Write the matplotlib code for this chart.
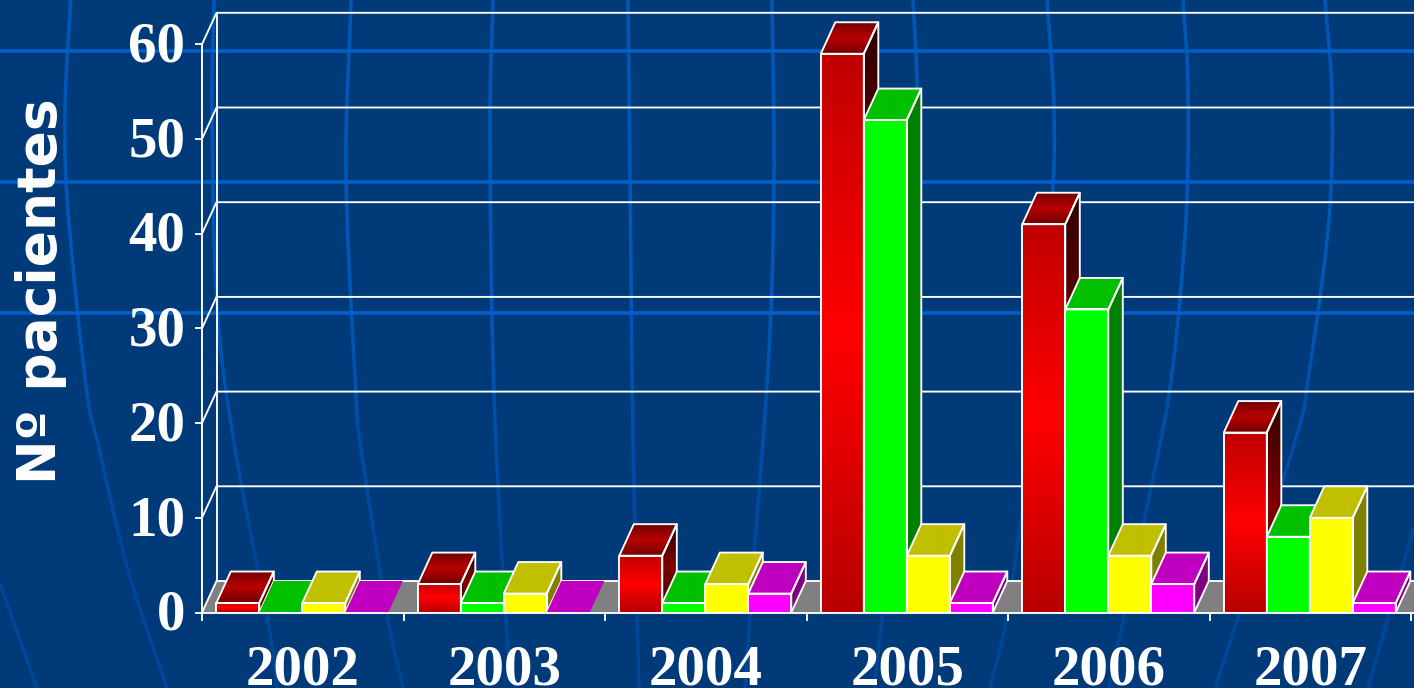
import numpy as np
import matplotlib
matplotlib.use("Agg")
import matplotlib.pyplot as plt
from matplotlib.collections import LineCollection
from matplotlib.colors import LinearSegmentedColormap, to_rgb
from matplotlib.patches import Polygon
from matplotlib.path import Path
from matplotlib.transforms import ScaledTranslation

# ---- data ----
years = ["2002", "2003", "2004", "2005", "2006", "2007"]
series_a = [1, 3, 6, 59, 41, 19]
series_b = [0, 1, 1, 52, 32, 8]
series_c = [1, 2, 3, 6, 6, 10]
series_d = [0, 0, 2, 1, 3, 1]
y_ticks = [0, 10, 20, 30, 40, 50, 60]
y_title = "Nº pacientes"

# ---- style ----
W, H = 1414, 688
BG = "#003A78"
LINE_TOP = "#0058BC"
LINE_BOTTOM = "#00479A"
HLINE = "#005FC8"
DEPTH_X_PX, DEPTH_Y_PX = 14.5, 31.5
CAT_PX, UNIT_PX = 201.5, 9.47
X0_PX, Y0_PX = 202.0, 612.5
BAR_PX, BAR_OFFSET_PX = 43.0, 14.3

styles = [
    dict(front=["#B80000", "#FF0000", "#C00000"], top=["#700000", "#B80000", "#700000"],
         side=["#300000", "#800000", "#300000"]),
    dict(front=["#00FF00"] * 3, top=["#00C000"] * 3, side=["#008000"] * 3),
    dict(front=["#FFFF00"] * 3, top=["#C0C000"] * 3, side=["#808000"] * 3),
    dict(front=["#FF00FF"] * 3, top=["#C000C0"] * 3, side=["#800080"] * 3),
]

# background decoration, in pixels
curves = [
    [(0, 584), (37, 688)],
    [(70.6, 0), (65, 110), (68, 211), (86, 386), (99, 448), (128, 570), (167, 688)],
    [(214, 0), (212, 110), (217, 307), (235, 448), (269, 627), (277, 688)],
    [(351, 0), (346, 175), (356, 395), (361, 448), (387, 614), (403, 688)],
    [(493, 0), (490, 132), (494, 395), (507, 636), (515, 688)],
    [(628, 0), (630, 175), (633, 439), (639, 688)],
    [(772, 0), (774, 175), (769, 351), (753, 570), (745, 688)],
    [(913, 0), (917, 88), (915, 219), (902, 439), (874, 688)],
    [(1047, 0), (1054, 110), (1051, 219), (1031, 439), (1007, 614), (990, 688)],
    [(1183, 0), (1188, 88), (1186, 219), (1172, 373), (1152, 483), (1109, 688)],
    [(1325, 0), (1332, 97), (1329, 219), (1309, 373), (1293, 448), (1215, 688)],
    [(1414, 527), (1368, 688)],
]
hlines_px = [51, 182, 313]

plt.rcParams["font.family"] = ["Liberation Serif", "DejaVu Serif"]
fig = plt.figure(figsize=(W / 100, H / 100), dpi=100, facecolor=BG)

# ---- background layer ----
bg = fig.add_axes([0, 0, 1, 1], zorder=0)
bg.set_xlim(0, W)
bg.set_ylim(H, 0)
bg.axis("off")


def smooth(points, n=24):
    p = np.array(points, float)
    if len(p) < 3:
        return p
    q = np.vstack([2 * p[0] - p[1], p, 2 * p[-1] - p[-2]])
    out = []
    for i in range(1, len(q) - 2):
        t = np.linspace(0, 1, n, endpoint=False)[:, None]
        out.append(0.5 * (2 * q[i] + (q[i + 1] - q[i - 1]) * t
                          + (2 * q[i - 1] - 5 * q[i] + 4 * q[i + 1] - q[i + 2]) * t ** 2
                          + (3 * q[i] - q[i - 1] - 3 * q[i + 1] + q[i + 2]) * t ** 3))
    return np.vstack(out + [p[-1:]])


c_top, c_bot = np.array(to_rgb(LINE_TOP)), np.array(to_rgb(LINE_BOTTOM))
for c in curves:
    pts = smooth(c)
    segs = np.stack([pts[:-1], pts[1:]], axis=1)
    ym = segs[:, :, 1].mean(axis=1)
    f = np.clip((ym - 300) / 250, 0, 1)[:, None]
    bg.add_collection(LineCollection(segs, colors=c_top * (1 - f) + c_bot * f,
                                     linewidths=2.5, capstyle="butt"))
for y in hlines_px:
    bg.axhline(y, color=HLINE, lw=2.6)

# ---- chart ----
ax = fig.add_axes([X0_PX / W, (H - Y0_PX) / H, (W - X0_PX) / W, Y0_PX / H], zorder=1)
ax.patch.set_alpha(0)
ax.set_xlim(0, (W - X0_PX) / CAT_PX)
ax.set_ylim(0, Y0_PX / UNIT_PX)

dx = DEPTH_X_PX / CAT_PX
dy = DEPTH_Y_PX / UNIT_PX
bw = BAR_PX / CAT_PX
off = BAR_OFFSET_PX / CAT_PX
xmax = ax.get_xlim()[1]
ymax = max(y_ticks)
WHITE_LW = 1.35

# walls and floor
for v in y_ticks[1:]:
    ax.plot([0, dx, xmax], [v, v + dy, v + dy], color="white", lw=WHITE_LW, zorder=1, clip_on=False)
ax.plot([dx, dx], [dy, ymax + dy], color="white", lw=WHITE_LW, zorder=1)
ax.add_patch(Polygon([(0, 0), (dx, dy), (xmax, dy), (xmax, 0)], closed=True,
                     facecolor="#808080", edgecolor="none", zorder=1.2))
ax.plot([0, dx, xmax], [0, dy, dy], color="white", lw=WHITE_LW, zorder=1.3)


def gradient_face(verts, colors, ybounds, z):
    cmap = LinearSegmentedColormap.from_list("f", colors)
    xs = [v[0] for v in verts]
    im = ax.imshow(np.linspace(1, 0, 128)[:, None], cmap=cmap, vmin=0, vmax=1, aspect="auto",
                   extent=(min(xs), max(xs), ybounds[0], ybounds[1]),
                   origin="upper", interpolation="bilinear", zorder=z)
    im.set_clip_path(Path(list(verts) + [verts[0]], closed=True), ax.transData)


def draw_bar(x, v, st, z):
    fr = [(x, 0), (x + bw, 0), (x + bw, v), (x, v)]
    tp = [(x, v), (x + bw, v), (x + bw + dx, v + dy), (x + dx, v + dy)]
    sd = [(x + bw, 0), (x + bw + dx, dy), (x + bw + dx, v + dy), (x + bw, v)]
    if v == 0:
        ax.add_patch(Polygon(tp, closed=True, facecolor=st["top"][1], edgecolor="none", zorder=z))
        return
    gradient_face(sd, st["side"], (0, v + dy), z)
    gradient_face(tp, st["top"], (v, v + dy), z + 0.1)
    gradient_face(fr, st["front"], (0, v), z + 0.2)
    for poly in (sd, tp, fr):
        ax.add_patch(Polygon(poly, closed=True, fill=False, edgecolor="white",
                             lw=WHITE_LW, joinstyle="round", zorder=z + 0.3))


all_series = [series_a, series_b, series_c, series_d]
z = 3.0
for k in range(len(years)):
    for j, values in enumerate(all_series):
        draw_bar(k + off + j * bw, values[k], styles[j], z)
        z += 1

# axes, ticks, labels
for s in ("top", "right"):
    ax.spines[s].set_visible(False)
for s in ("left", "bottom"):
    ax.spines[s].set_color("white")
    ax.spines[s].set_linewidth(WHITE_LW)
    ax.spines[s].set_zorder(z + 1)
ax.spines["left"].set_bounds(0, ymax)
ax.spines["bottom"].set_bounds(0, xmax)

ax.set_yticks(y_ticks)
ax.set_yticklabels([str(v) for v in y_ticks], fontsize=41, fontweight="bold", color="white")
ax.tick_params(axis="y", length=5, width=WHITE_LW, color="white", pad=7)
nudge = ScaledTranslation(0, 2 / 72, fig.dpi_scale_trans)
for lbl in ax.get_yticklabels():
    lbl.set_transform(lbl.get_transform() + nudge)
ax.set_xticks(range(len(years) + 1))
ax.set_xticklabels([])
ax.tick_params(axis="x", which="major", length=5.5, width=WHITE_LW, color="white")
ax.set_xticks(np.arange(len(years)) + 0.5, minor=True)
ax.set_xticklabels(years, minor=True, fontsize=41, fontweight="bold", color="white")
ax.tick_params(axis="x", which="minor", length=0, pad=23)

ax.set_ylabel(y_title, family="DejaVu Sans", fontweight="bold", fontsize=38.5, color="white")
ax.yaxis.set_label_coords(67, 291, transform=bg.transData)

fig.savefig("out.png", dpi=100, facecolor=BG)
